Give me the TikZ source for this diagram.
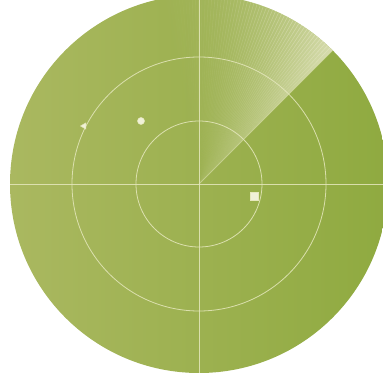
\documentclass[tikz,border=0pt]{standalone}
\usetikzlibrary{shapes.geometric}
\definecolor{radarlight}{RGB}{170,184,96}
\definecolor{radargreen}{RGB}{157,177,80}
\definecolor{radardark}{RGB}{143,170,64}
\definecolor{sweepin}{RGB}{168,186,98}
\definecolor{sweepout}{RGB}{226,228,192}
\definecolor{ringcolour}{RGB}{230,232,190}
\tikzset{
    ringline/.style = {draw = ringcolour, line width = 0.8pt, opacity = 0.85},
    blip/.style = {fill = ringcolour!60!white, draw = ringcolour, inner sep = 0pt, line width = 0.5pt}
}
\begin{document}
\begin{tikzpicture}[x=1pt,y=1pt]
            \useasboundingbox (0,0) rectangle (383,389);
            \clip (0,0) rectangle (383,389);
            \coordinate (centre) at (199,205);
            % screen
            \shade[
                left color = radarlight,
                middle color = radargreen,
                right color = radardark
            ]
            (centre) circle (189);
            % sweep, fading behind the leading edge
            \foreach \a in {0,...,59} {
                \pgfmathsetmacro{\op}{0.85*(1-\a/60)^1.8}
                \begin{scope}
                    \clip (centre) -- ++(45+\a:200) arc[start angle=45+\a, end angle=46.2+\a, radius=200] -- cycle;
                    \shade[inner color = sweepin, outer color = sweepout, opacity = \op] (centre) circle (189);
                \end{scope}
            }
            \draw[ringline, opacity = 0.5] (centre) -- ++(45:189);
            % rings and cross
            \draw[ringline] (centre) circle (63);
            \draw[ringline] (centre) circle (127);
            \draw[ringline] (centre) ++(-189,0) -- ++(378,0);
            \draw[ringline] (centre) ++(0,-189) -- ++(0,378);
            % targets
            \node[blip, regular polygon, regular polygon sides = 3, shape border rotate = 90, minimum size = 7pt] (triangle) at (84,263) {};
            \node[blip, circle, minimum size = 7pt] (dot) at (141,268) {};
            \node[blip, rectangle, minimum size = 8pt] (square) at (254,193) {};
        \end{tikzpicture}
\end{document}
